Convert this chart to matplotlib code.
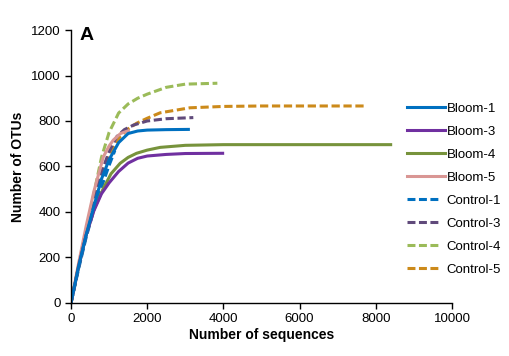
import matplotlib
matplotlib.use("Agg")
import matplotlib.pyplot as plt
from matplotlib.lines import Line2D

plt.rcParams['font.family'] = ['Liberation Sans', 'DejaVu Sans']

# Data (sequences, OTUs)
bloom1_x = [0, 200, 400, 600, 800, 1000, 1250, 1500, 1750, 2000, 2500, 3080]
bloom1_y = [0, 160, 300, 425, 545, 630, 705, 745, 756, 760, 762, 763]

bloom3_x = [0, 200, 400, 600, 800, 1000, 1250, 1500, 1750, 2000, 2500, 3000, 3980]
bloom3_y = [0, 160, 300, 405, 480, 528, 578, 615, 636, 646, 653, 657, 658]

bloom4_x = [0, 200, 400, 600, 850, 1050, 1290, 1500, 1720, 2000, 2340, 3000, 4000, 6000, 8390]
bloom4_y = [0, 160, 300, 410, 504, 568, 614, 640, 658, 672, 684, 693, 696, 696, 696]

bloom5_x = [0, 200, 400, 600, 850, 1000, 1110, 1300, 1505]
bloom5_y = [0, 175, 340, 490, 643, 690, 716, 745, 757]

control1_x = [0, 200, 400, 600, 800, 1000, 1150]
control1_y = [0, 150, 290, 410, 510, 605, 670]

control3_x = [0, 200, 400, 600, 800, 1000, 1200, 1400, 1640, 2000, 2500, 3210]
control3_y = [0, 165, 310, 450, 575, 665, 731, 762, 782, 800, 810, 815]

control4_x = [0, 200, 400, 600, 800, 1000, 1250, 1500, 1750, 2000, 2500, 3000, 3841]
control4_y = [0, 165, 320, 480, 640, 750, 835, 875, 900, 918, 948, 962, 966]

control5_x = [0, 200, 400, 600, 850, 1000, 1290, 1500, 1720, 2000, 2340, 3120, 4000, 5000, 7744]
control5_y = [0, 160, 300, 440, 585, 650, 731, 765, 790, 812, 836, 858, 864, 866, 866]

series = [
    ("Bloom-1", bloom1_x, bloom1_y, "#0070C0", "-"),
    ("Bloom-3", bloom3_x, bloom3_y, "#7030A0", "-"),
    ("Bloom-4", bloom4_x, bloom4_y, "#77933C", "-"),
    ("Bloom-5", bloom5_x, bloom5_y, "#D99694", "-"),
    ("Control-1", control1_x, control1_y, "#0070C0", "--"),
    ("Control-3", control3_x, control3_y, "#604A7B", "--"),
    ("Control-4", control4_x, control4_y, "#9BBB59", "--"),
    ("Control-5", control5_x, control5_y, "#CC8A1A", "--"),
]

fig = plt.figure(figsize=(5.09, 3.56), dpi=100)
ax = fig.add_axes([0.1395, 0.149, 0.7485, 0.7667])

LW = 2.2
for i in [6, 7, 5, 4, 3, 2, 1, 0]:
    name, xs, ys, c, ls = series[i]
    if ls == "--":
        ax.plot(xs, ys, color=c, lw=LW, ls=(0, (2.7, 1.2)), dash_capstyle='butt',
                solid_joinstyle='round')
    else:
        ax.plot(xs, ys, color=c, lw=LW, ls='-', solid_joinstyle='round')

# legend proxies (three dashes per dashed entry, as in the reference)
proxies = []
for name, xs, ys, c, ls in series:
    if ls == "--":
        proxies.append(Line2D([], [], color=c, lw=LW,
                              ls=(0, (2.6, 1.15, 2.6, 1.15, 2.6, 4.0)),
                              dash_capstyle='butt'))
    else:
        proxies.append(Line2D([], [], color=c, lw=LW, ls='-'))

ax.set_xlim(0, 10000)
ax.set_ylim(0, 1200)
ax.set_xticks([0, 2000, 4000, 6000, 8000, 10000])
ax.set_yticks([0, 200, 400, 600, 800, 1000, 1200])
ax.spines['top'].set_visible(False)
ax.spines['right'].set_visible(False)
ax.spines['left'].set_linewidth(1.0)
ax.spines['bottom'].set_linewidth(1.0)
ax.tick_params(direction='out', length=4, width=1.0, labelsize=9.5)
ax.set_xlabel("Number of sequences", fontsize=10, fontweight='bold', labelpad=2)
ax.set_ylabel("Number of OTUs", fontsize=10, fontweight='bold', labelpad=4)

fig.text(80 / 509, 1 - 36 / 356, "A", fontsize=14, fontweight='bold', va='center', ha='left')

names = [s[0] for s in series]
leg = fig.legend(proxies, names, loc='upper left',
                 bbox_to_anchor=(402 / 509, 1 - 97 / 356), frameon=False,
                 fontsize=9.5, handlelength=2.85, labelspacing=0.82, handletextpad=0.15,
                 borderaxespad=0)

fig.savefig("out.png", dpi=100)
